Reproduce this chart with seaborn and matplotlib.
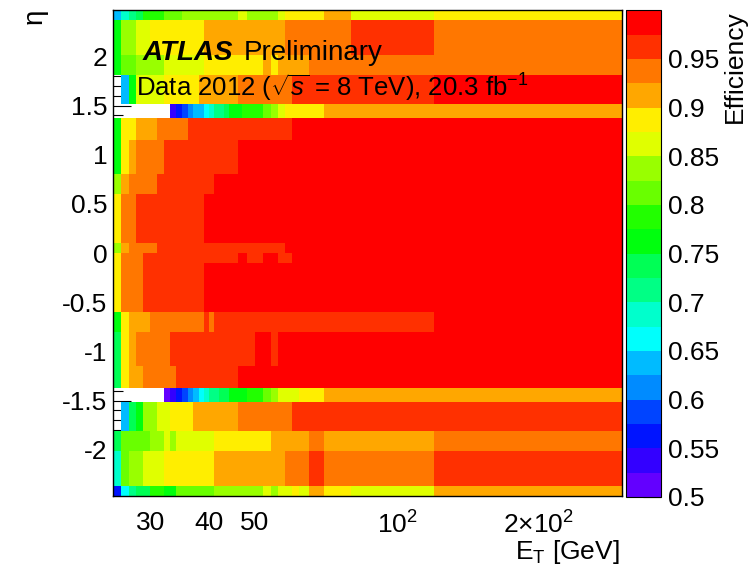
import numpy as np
import pandas as pd
import seaborn as sns
import matplotlib
matplotlib.use("Agg")
import matplotlib.pyplot as plt
from matplotlib.colors import ListedColormap
from matplotlib.ticker import MultipleLocator, FuncFormatter, NullFormatter

# eta bin edges (bottom to top)
eta_edges = [-2.47, -2.37, -2.01, -1.81, -1.52, -1.37, -1.15, -0.8, -0.6, -0.1, 0.0,
             0.1, 0.6, 0.8, 1.15, 1.37, 1.52, 1.81, 2.01, 2.37, 2.47]

# E_T bin edges [GeV] in each eta row, same order as eta_edges
et_edges = [
    [25, 26, 27, 28, 30, 32, 34, 41, 52, 54, 56, 60, 62, 65, 70, 80, 120, 300],
    [25, 26, 27, 29, 32, 41, 58, 65, 70, 120, 300],
    [25, 26, 30, 32, 33, 34, 41, 54, 65, 70, 120, 300],
    [25, 26, 27, 28, 29, 31, 33, 37, 46, 60, 300],
    [25, 32, 33, 34, 35, 36, 37, 38, 39, 40, 42, 44, 48, 52, 54, 56, 62, 70, 300],
    [25, 26, 27, 29, 34, 46, 300],
    [25, 26, 27, 28, 33, 50, 54, 56, 300],
    [25, 26, 27, 30, 39, 40, 41, 120, 300],
    [25, 26, 29, 39, 300],
    [25, 26, 29, 46, 48, 52, 56, 60, 300],
    [25, 26, 27, 31, 58, 300],
    [25, 26, 28, 39, 300],
    [25, 26, 27, 31, 41, 300],
    [25, 26, 27, 28, 32, 46, 300],
    [25, 26, 28, 31, 36, 60, 300],
    [25, 33, 34, 35, 36, 37, 39, 40, 41, 43, 44, 47, 52, 54, 56, 58, 70, 300],
    [25, 26, 27, 28, 32, 38, 46, 60, 120, 300],
    [25, 26, 28, 32, 39, 52, 54, 56, 65, 300],
    [25, 26, 28, 30, 39, 58, 80, 120, 300],
    [25, 26, 27, 28, 29, 32, 35, 46, 48, 56, 58, 70, 80, 120, 300],
]

# efficiency per E_T bin (None = no measurement)
eff = [
    [0.56, 0.66, 0.71, 0.735, 0.785, 0.76, 0.81, 0.835, 0.86, 0.835, 0.86, 0.885, 0.86, 0.91, 0.885, 0.86, 0.91],
    [0.685, 0.81, 0.835, 0.86, 0.885, 0.91, 0.935, 0.96, 0.935, 0.96],
    [0.735, 0.81, 0.835, 0.86, 0.835, 0.86, 0.885, 0.91, 0.935, 0.91, 0.935],
    [None, 0.635, 0.735, 0.76, 0.835, 0.86, 0.885, 0.91, 0.935, 0.96],
    [None, 0.51, 0.535, 0.56, 0.585, 0.61, 0.635, 0.66, 0.685, 0.71, 0.735, 0.76, 0.785, 0.81, 0.835, 0.86, 0.885, 0.91],
    [0.735, 0.885, 0.91, 0.935, 0.96, 0.985],
    [0.735, 0.885, 0.91, 0.935, 0.96, 0.985, 0.96, 0.985],
    [0.76, 0.885, 0.91, 0.935, 0.96, 0.935, 0.96, 0.985],
    [0.885, 0.935, 0.96, 0.985],
    [0.885, 0.935, 0.96, 0.985, 0.96, 0.985, 0.96, 0.985],
    [0.835, 0.91, 0.935, 0.96, 0.985],
    [0.885, 0.935, 0.96, 0.985],
    [0.835, 0.91, 0.935, 0.96, 0.985],
    [0.76, 0.885, 0.91, 0.935, 0.96, 0.985],
    [0.76, 0.885, 0.91, 0.935, 0.96, 0.985],
    [None, 0.535, 0.56, 0.585, 0.61, 0.635, 0.66, 0.685, 0.71, 0.735, 0.76, 0.785, 0.81, 0.835, 0.86, 0.885, 0.91],
    [None, 0.635, 0.76, 0.86, 0.885, 0.91, 0.935, 0.96, 0.985],
    [0.76, 0.81, 0.835, 0.86, 0.885, 0.91, 0.885, 0.91, 0.935],
    [0.76, 0.835, 0.86, 0.885, 0.91, 0.935, 0.96, 0.935],
    [0.635, 0.685, 0.71, 0.735, 0.785, 0.81, 0.835, 0.86, 0.835, 0.86, 0.885, 0.91, 0.86, 0.885],
]

# ROOT "pretty" palette, 20 contour levels from 0.5 to 1.0
palette = ["#6300ff", "#3300ff", "#0014ff", "#0044ff", "#008bff", "#00bbff", "#00fffc",
           "#00ffcc", "#00ff85", "#00ff55", "#00ff0e", "#22ff00", "#69ff00", "#99ff00",
           "#e0ff00", "#ffee00", "#ffa700", "#ff7700", "#ff3000", "#ff0000"]
cmap = ListedColormap(palette)

sns.set_theme(style="ticks")
plt.rcParams["font.family"] = ["Liberation Sans", "DejaVu Sans"]
plt.rcParams["mathtext.fontset"] = "custom"
plt.rcParams["mathtext.rm"] = "Liberation Sans"
plt.rcParams["mathtext.it"] = "Liberation Sans:italic"
plt.rcParams["axes.unicode_minus"] = False
for key in ["text.color", "axes.labelcolor", "xtick.color", "ytick.color", "axes.edgecolor"]:
    plt.rcParams[key] = "black"

fig = plt.figure(figsize=(7.53, 5.68), dpi=100)
ax = fig.add_axes([0.150, 0.127, 0.676, 0.855])
cax = fig.add_axes([0.8313, 0.125, 0.0465, 0.857])

for lo, hi, edges, vals in zip(eta_edges[:-1], eta_edges[1:], et_edges, eff):
    centers = [np.sqrt(a * b) for a, b in zip(edges[:-1], edges[1:])]
    row = pd.DataFrame({"et": centers, "eta": (lo + hi) / 2, "eff": vals}).dropna()
    sns.histplot(data=row, x="et", y="eta", weights="eff",
                 bins=[np.log10(edges), [lo, hi]], log_scale=(True, False),
                 cmap=cmap, vmin=0.5, vmax=1.0, ax=ax)

for mesh in ax.collections:
    mesh.set_cmap(cmap)
    mesh.set_clim(0.5, 1.0)

ax.set_xlim(25, 300)
ax.set_ylim(-2.47, 2.47)
ax.set_xlabel("")
ax.set_ylabel("")

ax.set_xticks([30, 40, 50, 100, 200])
ax.set_xticklabels(["30", "40", "50", r"$10^{2}$", r"$2{\times}10^{2}$"])
ax.set_xticks([60, 70, 80, 90, 300], minor=True)
ax.xaxis.set_minor_formatter(NullFormatter())
ax.yaxis.set_major_locator(MultipleLocator(0.5))
ax.yaxis.set_minor_locator(MultipleLocator(0.1))
ax.yaxis.set_major_formatter(FuncFormatter(lambda v, p: "%g" % round(v, 2)))

ax.tick_params(axis="both", which="both", direction="in", top=True, right=True,
               colors="black", width=0.8, labelsize=19)
ax.tick_params(axis="x", which="major", length=6, pad=11)
ax.tick_params(axis="x", which="minor", length=4)
ax.tick_params(axis="y", which="major", length=13, pad=4)
ax.tick_params(axis="y", which="minor", length=7)
for s in ax.spines.values():
    s.set_color("black")
    s.set_linewidth(1.0)

cb = fig.colorbar(ax.collections[-1], cax=cax, ticks=np.arange(0.5, 0.96, 0.05))
cb.outline.set_linewidth(0.8)
cax.yaxis.set_major_formatter(FuncFormatter(lambda v, p: "%g" % round(v, 2)))
cax.tick_params(direction="in", length=13, width=0.8, labelsize=19, pad=5, colors="black")
cax.minorticks_off()

ax.text(0.059, 0.897, "ATLAS", transform=ax.transAxes, fontsize=20,
        fontweight="bold", fontstyle="italic", va="baseline")
ax.text(0.257, 0.897, "Preliminary", transform=ax.transAxes, fontsize=20, va="baseline")
ax.text(0.045, 0.821, r"Data 2012 ($\sqrt{s}$ = 8 TeV), 20.3 fb$^{-1}$",
        transform=ax.transAxes, fontsize=18.5, va="baseline")

fig.text(0.046, 0.985, "η", rotation=90, fontsize=20, ha="center", va="top")
fig.text(0.976, 0.982, "Efficiency", rotation=90, fontsize=19, ha="center", va="top")
fig.text(0.823, 0.016, r"E$_{\mathrm{T}}$ [GeV]", fontsize=19, ha="right", va="baseline")

fig.savefig("out.png", dpi=100)
